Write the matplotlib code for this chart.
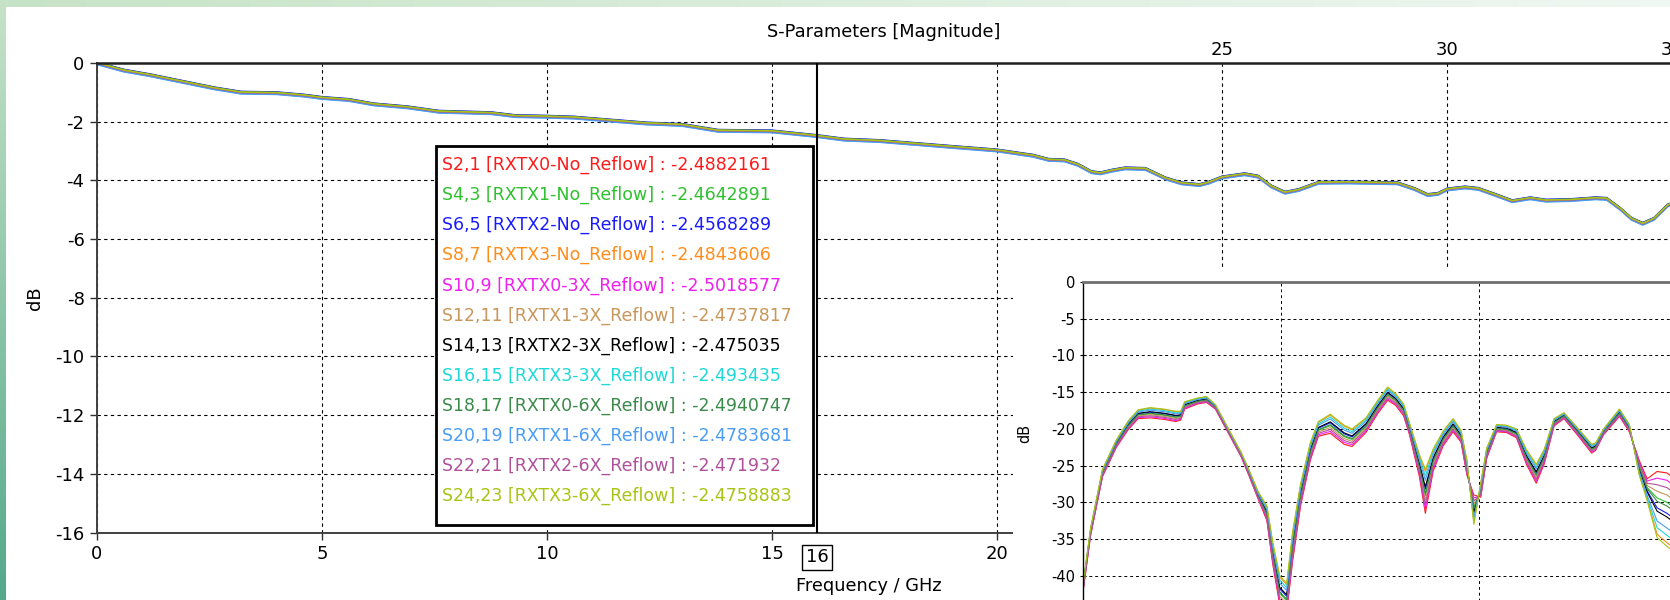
import numpy as np
import matplotlib
matplotlib.use("Agg")
import matplotlib.pyplot as plt
from matplotlib.patches import Rectangle

plt.rcParams['font.family'] = ['DejaVu Sans']
plt.rcParams['axes.unicode_minus'] = False

# series names / colours (legend order)
names = ['S2,1 [RXTX0-No_Reflow]', 'S4,3 [RXTX1-No_Reflow]', 'S6,5 [RXTX2-No_Reflow]',
         'S8,7 [RXTX3-No_Reflow]', 'S10,9 [RXTX0-3X_Reflow]', 'S12,11 [RXTX1-3X_Reflow]',
         'S14,13 [RXTX2-3X_Reflow]', 'S16,15 [RXTX3-3X_Reflow]', 'S18,17 [RXTX0-6X_Reflow]',
         'S20,19 [RXTX1-6X_Reflow]', 'S22,21 [RXTX2-6X_Reflow]', 'S24,23 [RXTX3-6X_Reflow]']
marker_vals = ['-2.4882161', '-2.4642891', '-2.4568289', '-2.4843606', '-2.5018577', '-2.4737817',
               '-2.475035', '-2.493435', '-2.4940747', '-2.4783681', '-2.471932', '-2.4758883']
colors = ['#ff1a1a', '#2ec02e', '#1a1aff', '#ff8c1a', '#f01ef0', '#c8965a',
          '#000000', '#1ed8d8', '#3a8a4a', '#4a9cf5', '#b0509a', '#a8c414']

# insertion loss (main plot), centre of bundle
main_freq = [0, 0.6, 1.16, 1.8, 2.6, 3.2, 4.0, 4.6, 5.0, 5.6, 6.15, 6.9, 7.6, 8.76, 9.3, 10.0,
             10.6, 11.4, 12.2, 13.0, 13.8, 15.0, 16.0, 16.6, 17.4, 18.2, 19.0, 20.0, 20.8, 21.15,
             21.5, 21.8, 22.1, 22.3, 22.55, 22.85, 23.3, 23.74, 24.1, 24.5, 24.7, 25.0, 25.5, 25.8,
             26.1, 26.4, 26.7, 27.15, 27.8, 28.9, 29.27, 29.57, 29.8, 30.0, 30.4, 30.7, 31.1, 31.45,
             31.85, 32.2, 32.75, 33.3, 33.55, 33.85, 34.1, 34.35, 34.6, 34.9, 35.3]
main_db = [0, -0.25, -0.4, -0.6, -0.85, -1.0, -1.02, -1.1, -1.18, -1.25, -1.4, -1.5, -1.65, -1.7,
           -1.8, -1.82, -1.85, -1.95, -2.05, -2.1, -2.3, -2.32, -2.48, -2.6, -2.65, -2.75, -2.85,
           -2.97, -3.15, -3.29, -3.31, -3.46, -3.71, -3.75, -3.66, -3.58, -3.6, -3.92, -4.09, -4.15,
           -4.07, -3.89, -3.78, -3.86, -4.2, -4.41, -4.32, -4.07, -4.06, -4.09, -4.28, -4.49, -4.45,
           -4.3, -4.23, -4.28, -4.5, -4.7, -4.6, -4.68, -4.66, -4.6, -4.62, -4.96, -5.3, -5.47,
           -5.3, -4.85, -4.6]
main_offset = [0.0, 0.02, 0.03, -0.01, -0.03, 0.0, -0.02, -0.04, 0.01, -0.05, -0.01, 0.01]

# return loss (inset), centre of bundle and half spread
inset_freq = [0.0, 0.4, 1.0, 1.7, 2.3, 2.8, 3.4, 4.1, 4.7, 4.95, 5.15, 5.8, 6.25, 6.7, 7.3, 8.0,
              8.4, 8.85, 9.3, 9.6, 9.95, 10.3, 10.6, 11.0, 11.5, 11.9, 12.5, 13.2, 13.6, 14.3,
              14.9, 15.4, 15.8, 16.2, 16.5, 17.0, 17.3, 17.7, 18.2, 18.7, 19.1, 19.4, 19.75, 20.1,
              20.4, 20.9, 21.4, 21.9, 22.4, 22.9, 23.3, 23.8, 24.3, 25.0, 25.7, 25.9, 26.3, 27.1,
              27.6, 28.1, 28.5, 29.0, 29.5, 30.0, 30.5]
inset_db = [-42, -34, -26, -22, -19.5, -18, -17.8, -18.0, -18.3, -18.2, -16.8, -16.2, -16.0, -17.0,
            -20.0, -23.5, -26.0, -29.0, -31.5, -37, -42, -43, -36, -29, -23, -20, -19.3, -20.8,
            -21.2, -19.5, -17.0, -15.2, -16.0, -17.4, -20, -25, -28.5, -24.2, -21.3, -19.5, -21,
            -25.3, -31, -28.3, -23.3, -19.9, -20.0, -20.6, -23.8, -26.1, -23.8, -19.1, -18.2,
            -20.4, -22.7, -22.4, -20.4, -17.8, -19.9, -25.3, -28.3, -30.3, -31, -32, -32]
inset_spread = [0.5, 0.5, 0.5, 0.5, 0.6, 0.6, 0.7, 0.7, 0.7, 0.6, 0.5, 0.4, 0.4, 0.3, 0.3, 0.3,
                0.4, 0.5, 1.0, 1.5, 2.0, 2.0, 2.0, 1.5, 1.2, 1.0, 1.3, 1.3, 1.2, 1.0, 0.9, 0.9,
                0.8, 0.8, 0.8, 1.5, 3.0, 1.5, 1.0, 0.9, 0.8, 1.0, -2.0, 1.0, 0.7, 0.5, 0.5, 0.6,
                1.0, 1.3, 1.0, 0.5, 0.4, 0.5, 0.6, 0.5, 0.4, 0.5, 0.5, -1.0, -1.5, -4.5, -5.0,
                -5.0, -5.0]
inset_rank = [-1.0, -0.2, 0.1, 0.9, -0.8, -0.4, 0.2, 0.7, -0.1, 0.5, -0.6, 1.0]

W, H = 1670, 600
fig = plt.figure(figsize=(W / 100, H / 100), dpi=100)

# window background: green bands on the left and top
bg = fig.add_axes([0, 0, 1, 1], zorder=-10)
img = np.ones((H, W, 3))
top_l = np.array([0.78, 0.89, 0.78])
top_r = np.array([0.94, 0.97, 0.95])
t = np.linspace(0, 1, W)[:, None]
img[:7, :, :] = (top_l * (1 - t) + top_r * t)[None, :, :]
left_t = np.array([0.78, 0.89, 0.78])
left_b = np.array([0.33, 0.66, 0.55])
s = np.linspace(0, 1, H)[:, None]
img[:, :6, :] = (left_t * (1 - s) + left_b * s)[:, None, :]
bg.imshow(img, aspect='auto', extent=[0, 1, 0, 1])
bg.axis('off')

# main plot
ax = fig.add_axes([97 / W, 67.5 / H, 1620 / W, 469.5 / H])
for i in range(12):
    ax.plot(main_freq, np.array(main_db) + main_offset[i], color=colors[i], lw=1.2)
ax.set_xlim(0, 36)
ax.set_ylim(-16, 0)
ax.set_yticks(np.arange(-16, 1, 2))
ax.set_xticks(np.arange(0, 36, 5))
ax.set_xticklabels(['0', '5', '10', '15', '20', '', '', ''])
ax.grid(True, color='black', linestyle=(0, (3, 3)), linewidth=0.8)
ax.tick_params(labelsize=13, length=5, width=1, pad=4, colors='#303030', labelcolor='black')
for sp in ['left', 'bottom']:
    ax.spines[sp].set_color('#404040')
    ax.spines[sp].set_linewidth(1.4)
ax.spines['top'].set_color('#202020')
ax.spines['top'].set_linewidth(1.8)
ax.spines['right'].set_visible(False)

top = ax.secondary_xaxis('top')
top.set_xticks([25, 30, 35])
top.tick_params(length=0, labelsize=13, pad=3)
top.spines['top'].set_visible(False)

# marker at 16 GHz
ax.axvline(16, color='black', lw=1.5, zorder=5)
ax.annotate('16', xy=(16, 0), xycoords=('data', 'axes fraction'), xytext=(0, -18),
            textcoords='offset points', ha='center', va='center', fontsize=13,
            bbox=dict(boxstyle='square,pad=0.22', fc='white', ec='black', lw=1))

# marker value box
ax.add_patch(Rectangle(((436 - 97) / 1620, (532.5 - 525) / 469.5), 377 / 1620, 379 / 469.5,
                       transform=ax.transAxes, facecolor='white', edgecolor='black', lw=2,
                       zorder=9))
leg = ax.legend([plt.Line2D([], [], lw=0) for _ in names],
                [n + ' : ' + v for n, v in zip(names, marker_vals)],
                loc='upper left', bbox_to_anchor=((442 - 97) / 1620, (532.5 - 156) / 469.5),
                handlelength=0, handletextpad=0, fontsize=12.5, labelspacing=0.68,
                frameon=False, borderpad=0, borderaxespad=0)
leg.set_zorder(10)
for txt, c in zip(leg.get_texts(), colors):
    txt.set_color(c)

fig.text(884 / W, 1 - 32 / H, 'S-Parameters [Magnitude]', ha='center', va='center', fontsize=12.8)
fig.text(869 / W, 1 - 586 / H, 'Frequency / GHz', ha='center', va='center', fontsize=12.8)
fig.text(35 / W, 1 - 298 / H, 'dB', ha='center', va='center', fontsize=12.8, rotation=90)

# inset window (return loss)
fig.add_artist(Rectangle((1013 / W, 0), 1 - 1013 / W, 330 / H, transform=fig.transFigure,
                         facecolor='white', edgecolor='none', zorder=1))
ax2 = fig.add_axes([1082.7 / W, -12.5 / H, 614 / W, 330.5 / H], zorder=2)
for i in range(12):
    ax2.plot(inset_freq, np.array(inset_db) + inset_rank[i] * np.array(inset_spread),
             color=colors[i], lw=0.8)
ax2.set_xlim(0, 31)
ax2.set_ylim(-45, 0)
ax2.set_yticks(np.arange(-40, 1, 5))
ax2.set_xticks([10, 20, 30])
ax2.set_xticklabels([])
ax2.grid(True, color='black', linestyle=(0, (3, 3)), linewidth=0.7)
ax2.tick_params(axis='y', labelsize=10.5, length=5, direction='inout', pad=3)
ax2.tick_params(axis='x', length=0)
ax2.spines['top'].set_color('#707070')
ax2.spines['top'].set_linewidth(2)
ax2.spines['left'].set_linewidth(1)
ax2.spines['right'].set_visible(False)
ax2.spines['bottom'].set_visible(False)
fig.text(1025 / W, 1 - 433 / H, 'dB', ha='center', va='center', fontsize=10.5, rotation=90)

fig.savefig('out.png', dpi=100)
